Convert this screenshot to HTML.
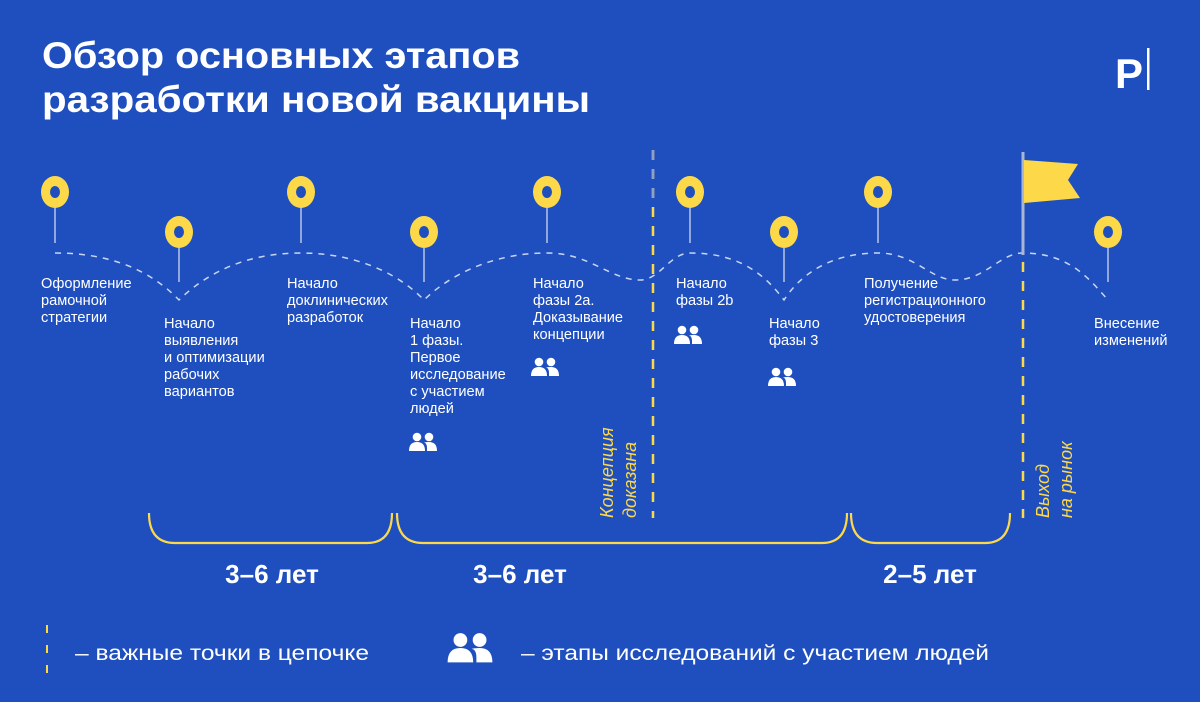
<!DOCTYPE html>
<html><head><meta charset="utf-8"><style>
html,body{margin:0;padding:0;background:#1f4fbe;}
svg{display:block}
text{font-family:"Liberation Sans","DejaVu Sans",sans-serif;}
.t{fill:#fff;font-size:14.6px;}
</style></head><body>
<svg width="1200" height="702" viewBox="0 0 1200 702" xmlns="http://www.w3.org/2000/svg">
<rect width="1200" height="702" fill="#1f4fbe"/>
<defs>
<g id="ppl" fill="#fff">
<circle cx="-6" cy="-5" r="4.3"/><circle cx="6" cy="-5" r="4.3"/>
<path d="M-14 9 Q-14 0 -6 0 Q2 0 2 9 Z"/>
<path d="M4 9 L4 6 Q4 1 1 0.5 Q3 0 6 0 Q14 0 14 9 Z"/>
</g>
<g id="ring"><ellipse cx="0" cy="0" rx="14" ry="16" fill="#fdd94a"/><ellipse cx="0" cy="0" rx="5" ry="6" fill="#1f4fbe"/></g>
</defs>

<text x="42" y="68" fill="#fff" font-size="37" font-weight="bold" textLength="478" lengthAdjust="spacingAndGlyphs">Обзор основных этапов</text>
<text x="42" y="112" fill="#fff" font-size="37" font-weight="bold" textLength="548" lengthAdjust="spacingAndGlyphs">разработки новой вакцины</text>
<text x="1115" y="88" fill="#fff" font-size="42" font-weight="bold">P</text>
<rect x="1147" y="48" width="2.5" height="42" fill="#fff"/>

<path d="M55 253 C110 253 150 270 179 300 C210 270 250 253 301 253 C350 253 395 270 424 300 C455 270 500 253 547 253 C590 253 610 280 640 280 C660 280 670 253 690 253 C740 253 765 275 784 300 C800 275 830 253 878 253 C915 253 930 280 955 280 C985 280 1000 253 1023 253 C1070 253 1090 280 1108 300" fill="none" stroke="#c9d6f0" stroke-width="1.5" stroke-dasharray="6 6"/>

<g stroke="#b8c6e6" stroke-width="1.5">
<line x1="55" y1="200" x2="55" y2="243"/>
<line x1="179" y1="246" x2="179" y2="282"/>
<line x1="301" y1="200" x2="301" y2="243"/>
<line x1="424" y1="246" x2="424" y2="282"/>
<line x1="547" y1="200" x2="547" y2="243"/>
<line x1="690" y1="200" x2="690" y2="243"/>
<line x1="784" y1="246" x2="784" y2="282"/>
<line x1="878" y1="200" x2="878" y2="243"/>
<line x1="1108" y1="246" x2="1108" y2="282"/>
</g>
<use href="#ring" x="55" y="192"/>
<use href="#ring" x="179" y="232"/>
<use href="#ring" x="301" y="192"/>
<use href="#ring" x="424" y="232"/>
<use href="#ring" x="547" y="192"/>
<use href="#ring" x="690" y="192"/>
<use href="#ring" x="784" y="232"/>
<use href="#ring" x="878" y="192"/>
<use href="#ring" x="1108" y="232"/>

<line x1="653" y1="150" x2="653" y2="518" stroke="#fdd94a" stroke-width="2.5" stroke-dasharray="10 9"/>
<line x1="653" y1="150" x2="653" y2="200" stroke="#8e9fc9" stroke-width="2.5" stroke-dasharray="10 9"/>
<line x1="1023" y1="262" x2="1023" y2="518" stroke="#fdd94a" stroke-width="2.5" stroke-dasharray="10 9"/>
<line x1="1023" y1="152" x2="1023" y2="255" stroke="#a9b6d6" stroke-width="3"/>
<path d="M1024 160 L1078 164 L1068 180 L1080 198 L1024 203 Z" fill="#fdd94a"/>

<text transform="translate(613,518) rotate(-90)" fill="#fdd94a" font-size="18" font-style="italic">Концепция</text>
<text transform="translate(636,518) rotate(-90)" fill="#fdd94a" font-size="18" font-style="italic">доказана</text>
<text transform="translate(1049,518) rotate(-90)" fill="#fdd94a" font-size="18" font-style="italic">Выход</text>
<text transform="translate(1072,518) rotate(-90)" fill="#fdd94a" font-size="18" font-style="italic">на рынок</text>

<text class="t" x="41" y="288"><tspan x="41">Оформление</tspan><tspan x="41" dy="17">рамочной</tspan><tspan x="41" dy="17">стратегии</tspan></text>
<text class="t" x="164" y="328"><tspan x="164">Начало</tspan><tspan x="164" dy="17">выявления</tspan><tspan x="164" dy="17">и оптимизации</tspan><tspan x="164" dy="17">рабочих</tspan><tspan x="164" dy="17">вариантов</tspan></text>
<text class="t" x="287" y="288"><tspan x="287">Начало</tspan><tspan x="287" dy="17">доклинических</tspan><tspan x="287" dy="17">разработок</tspan></text>
<text class="t" x="410" y="328"><tspan x="410">Начало</tspan><tspan x="410" dy="17">1 фазы.</tspan><tspan x="410" dy="17">Первое</tspan><tspan x="410" dy="17">исследование</tspan><tspan x="410" dy="17">с участием</tspan><tspan x="410" dy="17">людей</tspan></text>
<text class="t" x="533" y="288"><tspan x="533">Начало</tspan><tspan x="533" dy="17">фазы 2а.</tspan><tspan x="533" dy="17">Доказывание</tspan><tspan x="533" dy="17">концепции</tspan></text>
<text class="t" x="676" y="288"><tspan x="676">Начало</tspan><tspan x="676" dy="17">фазы 2b</tspan></text>
<text class="t" x="769" y="328"><tspan x="769">Начало</tspan><tspan x="769" dy="17">фазы 3</tspan></text>
<text class="t" x="864" y="288"><tspan x="864">Получение</tspan><tspan x="864" dy="17">регистрационного</tspan><tspan x="864" dy="17">удостоверения</tspan></text>
<text class="t" x="1094" y="328"><tspan x="1094">Внесение</tspan><tspan x="1094" dy="17">изменений</tspan></text>

<use href="#ppl" x="423" y="442"/>
<use href="#ppl" x="545" y="367"/>
<use href="#ppl" x="688" y="335"/>
<use href="#ppl" x="782" y="377"/>

<g fill="none" stroke="#fdd94a" stroke-width="2.2">
<path d="M149 513 Q149 543 175 543 L367 543 Q392 543 392 513"/>
<path d="M397 513 Q397 543 423 543 L822 543 Q847 543 847 513"/>
<path d="M851 513 Q851 543 877 543 L985 543 Q1010 543 1010 513"/>
</g>
<text x="272" y="583" fill="#fff" font-size="26" font-weight="bold" text-anchor="middle">3–6 лет</text>
<text x="520" y="583" fill="#fff" font-size="26" font-weight="bold" text-anchor="middle">3–6 лет</text>
<text x="930" y="583" fill="#fff" font-size="26" font-weight="bold" text-anchor="middle">2–5 лет</text>

<line x1="47" y1="625" x2="47" y2="682" stroke="#fdd94a" stroke-width="2" stroke-dasharray="8 12"/>
<text x="75" y="660" fill="#fff" font-size="21" textLength="294" lengthAdjust="spacingAndGlyphs">– важные точки в цепочке</text>
<g transform="translate(470,648) scale(1.6)"><use href="#ppl"/></g>
<text x="521" y="660" fill="#fff" font-size="21" textLength="468" lengthAdjust="spacingAndGlyphs">– этапы исследований с участием людей</text>
</svg>
</body></html>
